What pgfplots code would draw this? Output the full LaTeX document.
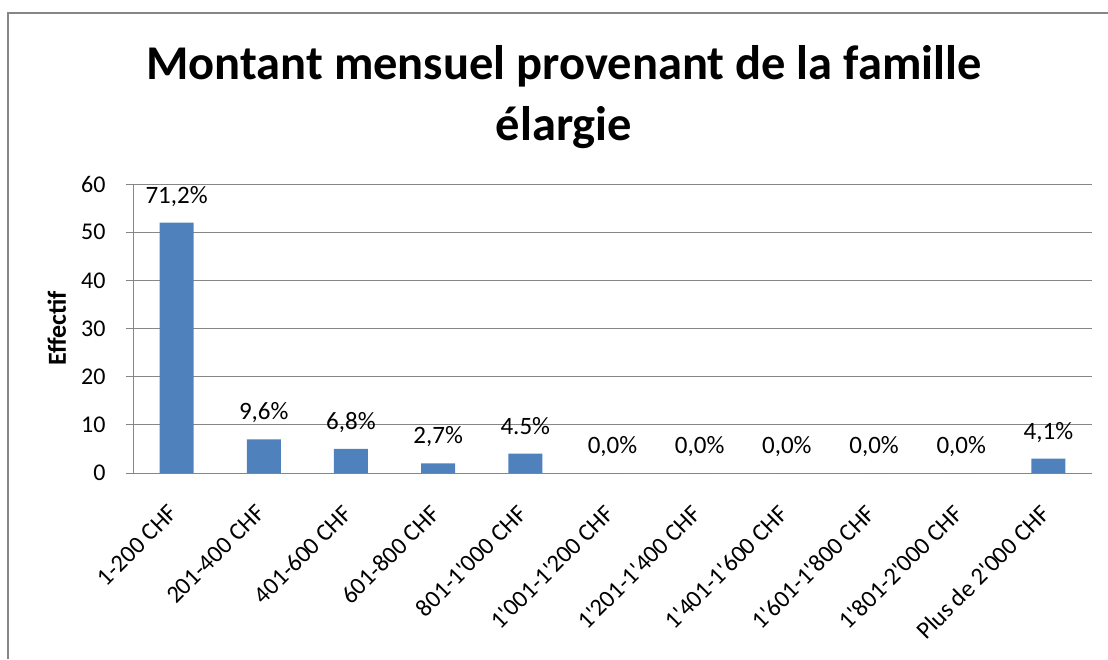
\documentclass[border=0pt]{standalone}
\usepackage{pgfplots}
\pgfplotsset{compat=1.18}
\usepackage{fontspec}
\setmainfont{Carlito}[Ligatures=TeXOff]
\definecolor{barblue}{HTML}{4F81BD}
\definecolor{gridgray}{HTML}{868686}
\begin{document}
\begin{tikzpicture}[x=1pt,y=1pt]
\path[use as bounding box] (0,0) rectangle (1108,-659);
\draw[gridgray, line width=1.3pt] (8,-659) -- (8,-13) -- (1108,-13);
\node[font=\fontsize{48.5}{58}\selectfont\bfseries, anchor=base] at (564,-79) {Montant mensuel provenant de la famille};
\node[font=\fontsize{48.5}{58}\selectfont\bfseries, anchor=base] at (564,-140) {élargie};
\begin{axis}[
  at={(133pt,-473pt)}, anchor=south west,
  scale only axis, width=959pt, height=289pt,
  ymin=0, ymax=60, xmin=-0.5, xmax=10.5,
  ytick={0,10,...,60},
  ymajorgrids, grid style={gridgray, line width=0.9pt},
  axis x line*=bottom, axis y line*=left,
  axis line style={gridgray, line width=0.9pt},
  every tick/.style={gridgray, line width=0.9pt},
  tick align=outside, major tick length=7pt,
  xtick={0,...,10},
  major x tick style={draw=none},
  extra x ticks={-0.5,0.5,...,10.5},
  extra x tick labels={},
  extra x tick style={major x tick style={gridgray, line width=0.9pt}, grid=none},
  xticklabels={1-200 CHF,201-400 CHF,401-600 CHF,601-800 CHF,801-1'000 CHF,1'001-1'200 CHF,1'201-1'400 CHF,1'401-1'600 CHF,1'601-1'800 CHF,1'801-2'000 CHF,Plus de 2'000 CHF},
  xticklabel shift=22pt,
  x tick label style={xshift=-9pt, rotate=45, anchor=north east, font=\fontsize{24.5}{28}\selectfont, inner sep=1pt},
  y tick label style={font=\fontsize{24}{28}\selectfont},
  yticklabel shift=17pt,
  /pgf/number format/assume math mode=true,
  ylabel={Effectif},
  ylabel style={at={(axis description cs:-0.0793,0.5)}, anchor=center, font=\fontsize{26}{30}\selectfont\bfseries},
  ybar, bar width=34pt,
  nodes near coords,
  point meta=explicit symbolic,
  every node near coord/.append style={anchor=base, yshift=19.5pt, font=\fontsize{25}{28}\selectfont, black},
]
\addplot[fill=barblue, draw=none] table[x=x, y=y, meta=lab] {
x y lab
0 52 71,2\%
1 7 9,6\%
2 5 6,8\%
3 2 2,7\%
4 4 4.5\%
5 0 0,0\%
6 0 0,0\%
7 0 0,0\%
8 0 0,0\%
9 0 0,0\%
10 3 4,1\%
};
\end{axis}
\end{tikzpicture}
\end{document}
